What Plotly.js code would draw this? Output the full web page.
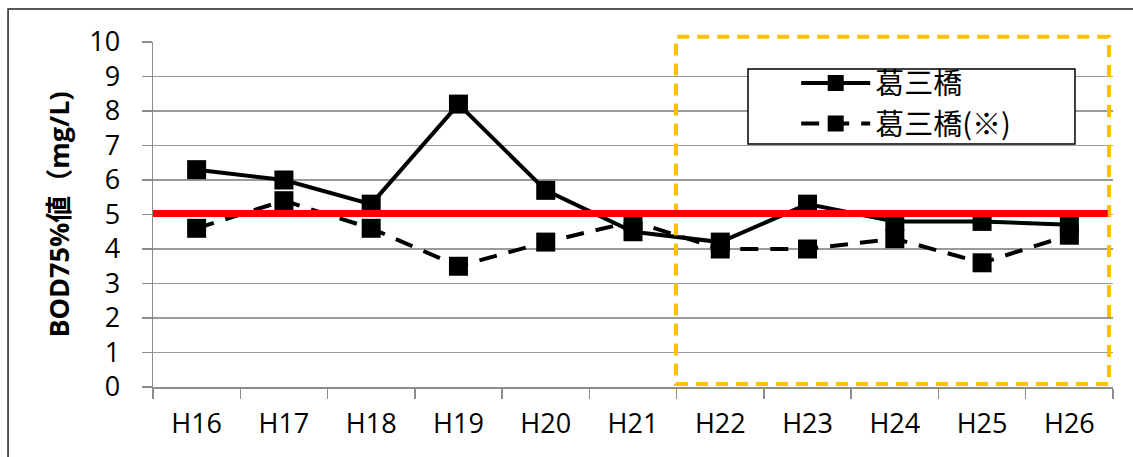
<!DOCTYPE html>
<html>
<head>
<meta charset="utf-8">
<script src="https://cdn.plot.ly/plotly-3.0.1.min.js"></script>
<style>
  html, body { margin: 0; padding: 0; background: #fff; }
  #chart { width: 1133px; height: 457px; }
</style>
</head>
<body>
<div id="chart"></div>
<script>
const categories = ['H16', 'H17', 'H18', 'H19', 'H20', 'H21', 'H22', 'H23', 'H24', 'H25', 'H26'];
const seriesNames = ['葛三橋', '葛三橋(※)'];
const solidValues = [6.3, 6.0, 5.3, 8.2, 5.7, 4.5, 4.2, 5.3, 4.8, 4.8, 4.7];
const dashedValues = [4.6, 5.4, 4.6, 3.5, 4.2, 4.8, 4.0, 4.0, 4.3, 3.6, 4.4];
const standardValue = 5;
const yTickValues = [0, 1, 2, 3, 4, 5, 6, 7, 8, 9, 10];
const yTitle = 'BOD75%値（mg/L)';

const tickFont = { family: '"Open Sans", "Noto Sans CJK JP", sans-serif', size: 27, color: '#000' };

const traces = [
  {
    type: 'scatter', mode: 'lines+markers', name: seriesNames[0],
    x: categories, y: solidValues,
    line: { color: '#000', width: 4 },
    marker: { symbol: 'square', size: 19, color: '#000' }
  },
  {
    type: 'scatter', mode: 'lines+markers', name: seriesNames[1],
    x: categories, y: dashedValues,
    line: { color: '#000', width: 4, dash: '18px,12px' },
    marker: { symbol: 'square', size: 19, color: '#000' }
  }
];

const layout = {
  width: 1133, height: 457,
  margin: { l: 153, r: 20, t: 42, b: 70 },
  paper_bgcolor: '#fff', plot_bgcolor: '#fff',
  showlegend: true,
  legend: {
    x: 0.67, y: 0.955, xanchor: 'left', yanchor: 'top',
    bgcolor: 'rgba(0,0,0,0)', borderwidth: 0,
    font: { family: '"Noto Sans CJK JP", sans-serif', size: 29, color: '#000' },
    itemwidth: 69, tracegroupgap: 0
  },
  xaxis: {
    type: 'category', range: [-0.5, categories.length - 0.5],
    showgrid: false, showline: true, linecolor: '#8c8c8c', linewidth: 1.5,
    ticks: 'outside', tickson: 'boundaries', ticklen: 10, tickcolor: '#8c8c8c', tickwidth: 1.5,
    tickfont: tickFont, ticklabelstandoff: 12, fixedrange: true
  },
  yaxis: {
    range: [0, 10], tickvals: yTickValues,
    showgrid: true, gridcolor: '#9a9a9a', gridwidth: 1.5,
    showline: true, linecolor: '#8c8c8c', linewidth: 1.5, zeroline: false,
    ticks: 'outside', ticklen: 10, tickcolor: '#8c8c8c', tickwidth: 1.5,
    tickfont: tickFont, ticklabelstandoff: 16,
    title: { text: yTitle, standoff: 12,
      font: { family: '"Open Sans", "Noto Sans CJK JP", sans-serif', size: 27, color: '#000', weight: 'bold' } }
  },
  shapes: [
    { type: 'rect', xref: 'paper', yref: 'paper', layer: 'below',
      x0: -0.151, x1: 1.1, y0: -0.3, y1: 1.0957,
      line: { color: '#222', width: 1.5 }, fillcolor: 'rgba(0,0,0,0)' },
    { type: 'rect', xref: 'paper', yref: 'paper', layer: 'above',
      x0: 0.6198, x1: 0.9604, y0: 0.7043, y1: 0.9217,
      line: { color: '#000', width: 1.5 }, fillcolor: '#fff' },
    { type: 'rect', xref: 'paper', yref: 'paper', layer: 'above',
      x0: 0.5448, x1: 0.9958, y0: 0.0087, y1: 1.0154,
      line: { color: '#FFC000', width: 4, dash: '12px,8px' }, fillcolor: 'rgba(0,0,0,0)' },
    { type: 'line', xref: 'x', yref: 'y', layer: 'above',
      x0: -0.56, x1: 10.44, y0: standardValue + 0.03, y1: standardValue + 0.03,
      line: { color: '#FF0000', width: 7 } }
  ]
};

Plotly.newPlot('chart', traces, layout, { displayModeBar: false, staticPlot: true });
</script>
</body>
</html>
